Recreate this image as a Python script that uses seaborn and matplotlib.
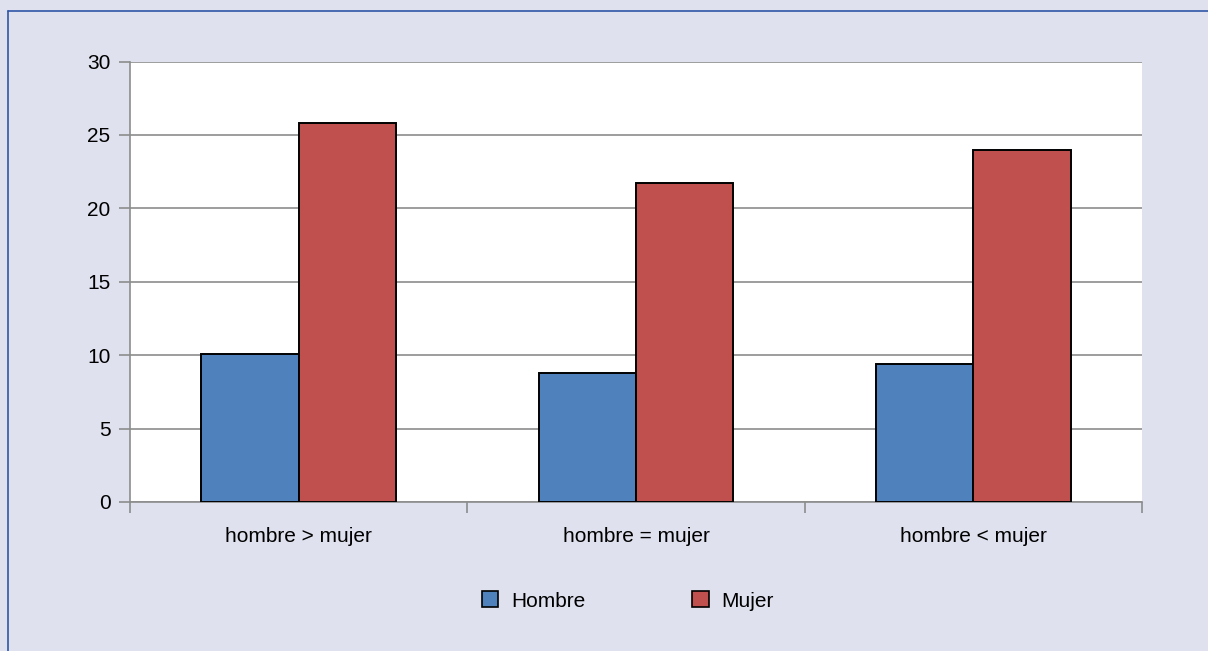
import pandas as pd
import matplotlib
matplotlib.use("Agg")
import matplotlib.pyplot as plt
import seaborn as sns
from matplotlib.lines import Line2D
from matplotlib.ticker import FixedLocator

# data
categories = ["hombre > mujer", "hombre = mujer", "hombre < mujer"]
hombre = [10.1, 8.8, 9.4]
mujer = [25.8, 21.7, 24.0]
series_names = ["Hombre", "Mujer"]
colors = ["#4f81bd", "#c0504d"]
y_ticks = [0, 5, 10, 15, 20, 25, 30]

df = pd.DataFrame({
    "categoria": categories * 2,
    "serie": [series_names[0]] * 3 + [series_names[1]] * 3,
    "valor": hombre + mujer,
})

sns.set_style("white")
plt.rcParams["font.family"] = ["Liberation Sans", "DejaVu Sans"]
plt.rcParams["text.color"] = "black"
plt.rcParams["xtick.labelcolor"] = "black"
plt.rcParams["ytick.labelcolor"] = "black"

bg = "#dfe1ee"
grey = "#8c8c8c"

fig = plt.figure(figsize=(12.08, 6.51), dpi=100, facecolor=bg)
ax = fig.add_axes([0.1076, 0.2289, 0.8378, 0.6766])
ax.set_facecolor("white")

sns.barplot(data=df, x="categoria", y="valor", hue="serie",
            palette=colors, saturation=1, width=0.577, gap=0,
            edgecolor="black", linewidth=1.4, ax=ax, zorder=3)

ax.set_xlim(-0.5, 2.5)
ax.set_ylim(0, 30)
ax.set_yticks(y_ticks)
ax.set_yticklabels([str(t) for t in y_ticks])
ax.yaxis.grid(True, color=grey, linewidth=1.2, zorder=0)
ax.set_axisbelow(True)

ax.set_xlabel("")
ax.set_ylabel("")

for side in ["top", "right"]:
    ax.spines[side].set_visible(False)
for side in ["left", "bottom"]:
    ax.spines[side].set_color(grey)
    ax.spines[side].set_linewidth(1.2)

ax.xaxis.set_minor_locator(FixedLocator([-0.5, 0.5, 1.5, 2.5]))
ax.tick_params(axis="x", which="major", bottom=False, length=0, pad=18,
               labelsize=15, labelcolor="black")
ax.tick_params(axis="x", which="minor", bottom=True, length=8, width=1.2,
               color=grey, direction="out")
ax.tick_params(axis="y", which="major", left=True, length=8, width=1.2, color=grey,
               direction="out", pad=6, labelsize=15, labelcolor="black")

leg = ax.legend(loc="center", bbox_to_anchor=(0.492, -0.225), ncol=2, frameon=False,
                fontsize=15, handlelength=0.8, handleheight=0.8, handletextpad=0.6,
                columnspacing=5.15)
for h in leg.legend_handles:
    h.set_edgecolor("black")
    h.set_linewidth(1.2)
for t in leg.get_texts():
    t.set_color("black")

# thin blue frame on top and left of the figure
fig.add_artist(Line2D([8 / 1208, 1], [1 - 11 / 651, 1 - 11 / 651],
                      transform=fig.transFigure, color="#2f56a6", linewidth=1.2))
fig.add_artist(Line2D([8 / 1208, 8 / 1208], [0, 1 - 11 / 651],
                      transform=fig.transFigure, color="#2f56a6", linewidth=1.2))

fig.savefig("out.png", dpi=100, facecolor=bg)
